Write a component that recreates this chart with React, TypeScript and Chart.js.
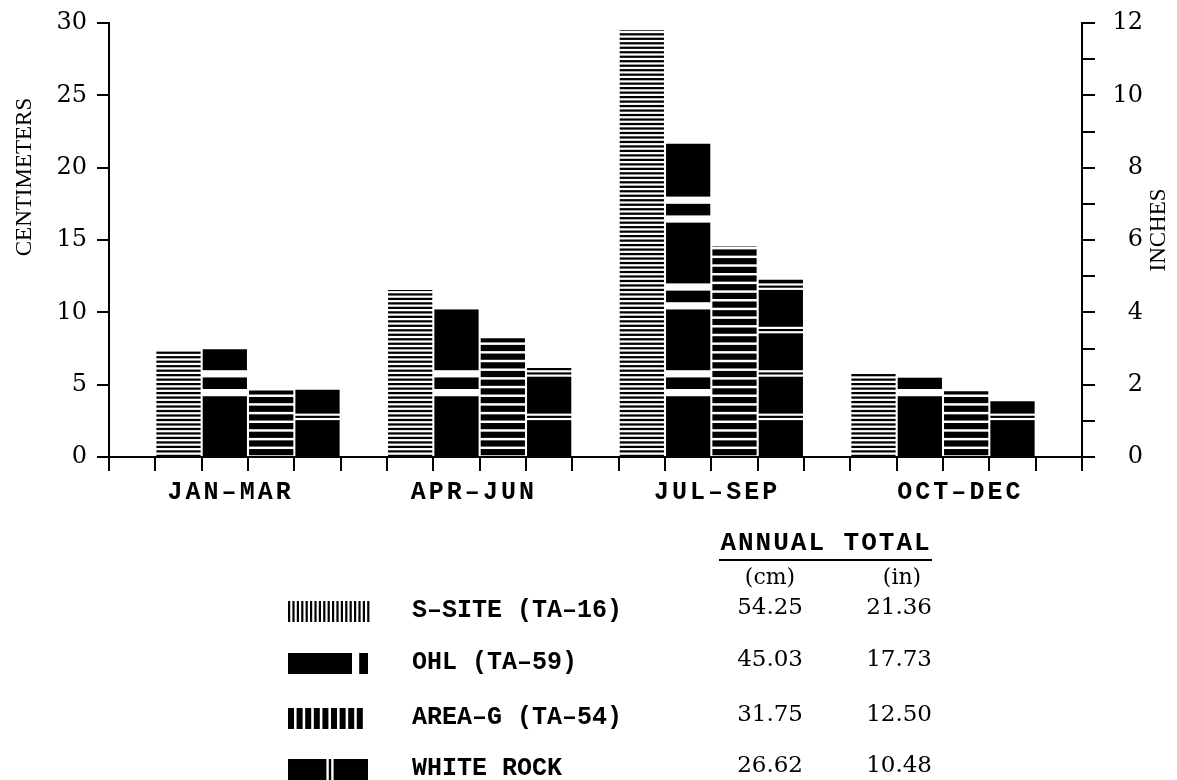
import React, { useEffect, useRef } from 'react';
import { Chart, registerables } from 'chart.js';

Chart.register(...registerables);

// ---------- data ----------
const QUARTERS = ['JAN–MAR', 'APR–JUN', 'JUL–SEP', 'OCT–DEC'];
const SERIES = ['S–SITE (TA–16)', 'OHL (TA–59)', 'AREA–G (TA–54)', 'WHITE ROCK'];
const S_SITE = [7.35, 11.55, 29.5, 5.85];
const OHL = [7.45, 10.3, 21.65, 5.5];
const AREA_G = [4.6, 8.2, 14.55, 4.55];
const WHITE_ROCK = [4.65, 6.15, 12.25, 3.85];
const SERIES_VALUES = [S_SITE, OHL, AREA_G, WHITE_ROCK];
const TOTAL_CM = ['54.25', '45.03', '31.75', '26.62'];
const TOTAL_IN = ['21.36', '17.73', '12.50', '10.48'];
const CM_MAX = 30;
const CM_STEP = 5;
const IN_MAX = 12;
const IN_STEP = 1;
const Y_TITLE_LEFT = 'CENTIMETERS';
const Y_TITLE_RIGHT = 'INCHES';
const TABLE_HEAD = 'ANNUAL TOTAL';
const UNIT_CM = '(cm)';
const UNIT_IN = '(in)';

// ---------- fill patterns (bands in cm) ----------
type Band = [number, number];
function patternSpec(s: number): { bg: string; fg: string; bands: Band[] } {
  const bands: Band[] = [];
  if (s === 0) {
    for (let v = 0; v < CM_MAX + 1; v += 0.31) bands.push([v, v + 0.155]);
    return { bg: '#fff', fg: '#000', bands };
  }
  if (s === 1) {
    for (let k = 1; k <= 6; k++) {
      bands.push([6 * k - 1.8, 6 * k - 1.3]);
      bands.push([6 * k - 0.5, 6 * k]);
    }
    return { bg: '#000', fg: '#fff', bands };
  }
  if (s === 2) {
    for (let v = 0; v < CM_MAX + 1; v += 0.6) bands.push([v + 0.12, v + 0.55]);
    return { bg: '#fff', fg: '#000', bands };
  }
  for (let k = 1; k <= 11; k++) {
    bands.push([3 * k - 0.45, 3 * k - 0.3]);
    bands.push([3 * k - 0.15, 3 * k]);
  }
  return { bg: '#000', fg: '#fff', bands };
}

const patternCache = new WeakMap<any, { key: string; pats: (CanvasPattern | string)[] }>();
function getPattern(chart: any, s: number): CanvasPattern | string {
  const ys = chart.scales && chart.scales.y;
  if (!ys || !chart.chartArea) return '#000';
  const key = `${chart.chartArea.top}-${chart.chartArea.bottom}-${chart.height}`;
  let entry = patternCache.get(chart);
  if (!entry || entry.key !== key) {
    const pats = SERIES.map((_, i) => {
      const spec = patternSpec(i);
      const tile = document.createElement('canvas');
      tile.width = 8;
      tile.height = chart.height;
      const t = tile.getContext('2d')!;
      t.fillStyle = spec.bg;
      t.fillRect(0, 0, 8, tile.height);
      t.fillStyle = spec.fg;
      spec.bands.forEach(([a, b]) => {
        const top = ys.getPixelForValue(b);
        const bot = ys.getPixelForValue(a);
        t.fillRect(0, top, 8, bot - top);
      });
      return chart.ctx.createPattern(tile, 'repeat') || '#000';
    });
    entry = { key, pats };
    patternCache.set(chart, entry);
  }
  return entry.pats[s];
}

// ---------- legend swatches (vertical versions of the fills) ----------
function drawSwatch(ctx: CanvasRenderingContext2D, s: number, x: number, y: number, w: number, h: number) {
  ctx.fillStyle = '#000';
  if (s === 0) {
    for (let p = 0; p < w; p += 4.4) ctx.fillRect(x + p, y, 2.2, h);
  } else if (s === 1) {
    ctx.fillRect(x, y, w * 0.8, h);
    ctx.fillRect(x + w * 0.89, y, w * 0.11, h);
  } else if (s === 2) {
    for (let p = 0; p < w - 3; p += 8.6) ctx.fillRect(x + p, y, 6, h);
  } else {
    ctx.fillRect(x, y, w * 0.48, h);
    ctx.fillRect(x + w * 0.51, y, w * 0.03, h);
    ctx.fillRect(x + w * 0.57, y, w * 0.43, h);
  }
}

const extrasPlugin = {
  id: 'extras',
  beforeDraw(chart: any) {
    (chart.ctx as any).letterSpacing = '0px';
  },
  afterDatasetsDraw(chart: any) {
    (chart.ctx as any).letterSpacing = '3px';
  },
  afterDraw(chart: any) {
    const ctx: CanvasRenderingContext2D = chart.ctx;
    ctx.save();
    (ctx as any).letterSpacing = '0px';
    ctx.fillStyle = '#000';
    ctx.strokeStyle = '#000';

    // axis titles
    ctx.font = '23px "Liberation Serif"';
    ctx.textAlign = 'center';
    ctx.textBaseline = 'middle';
    ctx.save();
    ctx.translate(25, 177);
    ctx.rotate(-Math.PI / 2);
    ctx.fillText(Y_TITLE_LEFT, 0, 0);
    ctx.restore();
    ctx.save();
    ctx.translate(1159, 230);
    ctx.rotate(-Math.PI / 2);
    ctx.fillText(Y_TITLE_RIGHT, 0, 0);
    ctx.restore();

    // table header
    ctx.font = 'bold 26px "Liberation Mono"';
    (ctx as any).letterSpacing = '2px';
    ctx.textAlign = 'center';
    ctx.fillText(TABLE_HEAD, 826, 543);
    (ctx as any).letterSpacing = '0px';
    ctx.lineWidth = 2;
    ctx.beginPath();
    ctx.moveTo(719, 560);
    ctx.lineTo(932, 560);
    ctx.stroke();
    ctx.font = '22px "DejaVu Serif"';
    ctx.fillText(UNIT_CM, 770, 578);
    ctx.fillText(UNIT_IN, 902, 578);

    const rowY = [611, 663, 718, 769];
    SERIES.forEach((name, s) => {
      const y = rowY[s];
      drawSwatch(ctx, s, 288, y - 10, 80, 21);
      ctx.font = 'bold 25px "Liberation Mono"';
      ctx.textAlign = 'left';
      ctx.fillText(name, 412, y);
      ctx.font = '23px "DejaVu Serif"';
      ctx.textAlign = 'right';
      ctx.fillText(TOTAL_CM[s], 803, y - 3);
      ctx.fillText(TOTAL_IN[s], 932, y - 3);
    });
    ctx.restore();
  },
};

const SLOT = SERIES.length + 1;

export default function App() {
  const ref = useRef<HTMLCanvasElement>(null);
  useEffect(() => {
    const datasets = SERIES_VALUES.map((vals, s) => ({
      label: SERIES[s],
      data: vals.map((v, q) => ({ x: q * SLOT + s + 1, y: v })),
      backgroundColor: (c: any) => getPattern(c.chart, s),
      borderWidth: 0,
      grouped: false,
      barPercentage: 0.955,
      categoryPercentage: 1,
      xAxisID: 'x',
      yAxisID: 'y',
    }));
    const black = '#000';
    const noVPad = (sc: any) => { sc.paddingTop = 0; sc.paddingBottom = 0; };
    const noHPad = (sc: any) => { sc.paddingLeft = 0; sc.paddingRight = 0; };
    const chart = new Chart(ref.current!, {
      type: 'bar',
      data: { datasets: datasets as any },
      plugins: [extrasPlugin],
      options: {
        animation: false,
        responsive: false,
        maintainAspectRatio: false,
        layout: { padding: { top: 23, bottom: 249, left: 0, right: 34 } },
        plugins: { legend: { display: false }, tooltip: { enabled: false }, title: { display: false } },
        scales: {
          x: {
            type: 'linear',
            position: 'bottom',
            weight: 0,
            min: 0,
            max: QUARTERS.length * SLOT,
            ticks: { display: false, stepSize: 1, maxTicksLimit: 100 },
            grid: { drawOnChartArea: false, drawTicks: true, tickLength: 14, color: black, lineWidth: 2 },
            border: { display: true, color: black, width: 2 },
            afterFit: (sc: any) => { sc.height = 14; noHPad(sc); },
          },
          xq: {
            type: 'category',
            labels: QUARTERS,
            position: 'bottom',
            offset: true,
            weight: 1,
            grid: { display: false, drawTicks: false },
            border: { display: false },
            ticks: {
              z: 1,
              color: black,
              font: { family: '"Liberation Mono"', size: 25, weight: 'bold' },
              padding: 7,
              maxRotation: 0,
              autoSkip: false,
            },
            afterFit: (sc: any) => { sc.height = 60; noHPad(sc); },
          },
          y: {
            type: 'linear',
            position: 'left',
            min: 0,
            max: CM_MAX,
            ticks: {
              stepSize: CM_STEP,
              maxTicksLimit: 100,
              padding: 10,
              color: black,
              font: { family: '"DejaVu Serif"', size: 24 },
            },
            grid: { drawOnChartArea: false, drawTicks: true, tickLength: 12, color: black, lineWidth: 2 },
            border: { display: true, color: black, width: 2 },
            afterFit: (sc: any) => { sc.width = 109; noVPad(sc); },
          },
          y1: {
            type: 'linear',
            position: 'right',
            min: 0,
            max: IN_MAX,
            ticks: {
              stepSize: IN_STEP,
              maxTicksLimit: 100,
              padding: 20,
              crossAlign: 'far',
              color: black,
              font: { family: '"DejaVu Serif"', size: 24 },
              callback: (v: any) => (Number(v) % 2 === 0 ? String(v) : ''),
            },
            grid: { drawOnChartArea: false, drawTicks: true, tickLength: 13, color: black, lineWidth: 2 },
            border: { display: true, color: black, width: 2 },
            afterFit: (sc: any) => { sc.width = 61; noVPad(sc); },
          },
        },
      } as any,
    });
    return () => chart.destroy();
  }, []);
  return (
    <div style={{ position: 'absolute', left: 0, top: 0, width: 1177, height: 780, background: '#fff' }}>
      <canvas ref={ref} width={1177} height={780} style={{ display: 'block', width: 1177, height: 780 }} />
    </div>
  );
}
